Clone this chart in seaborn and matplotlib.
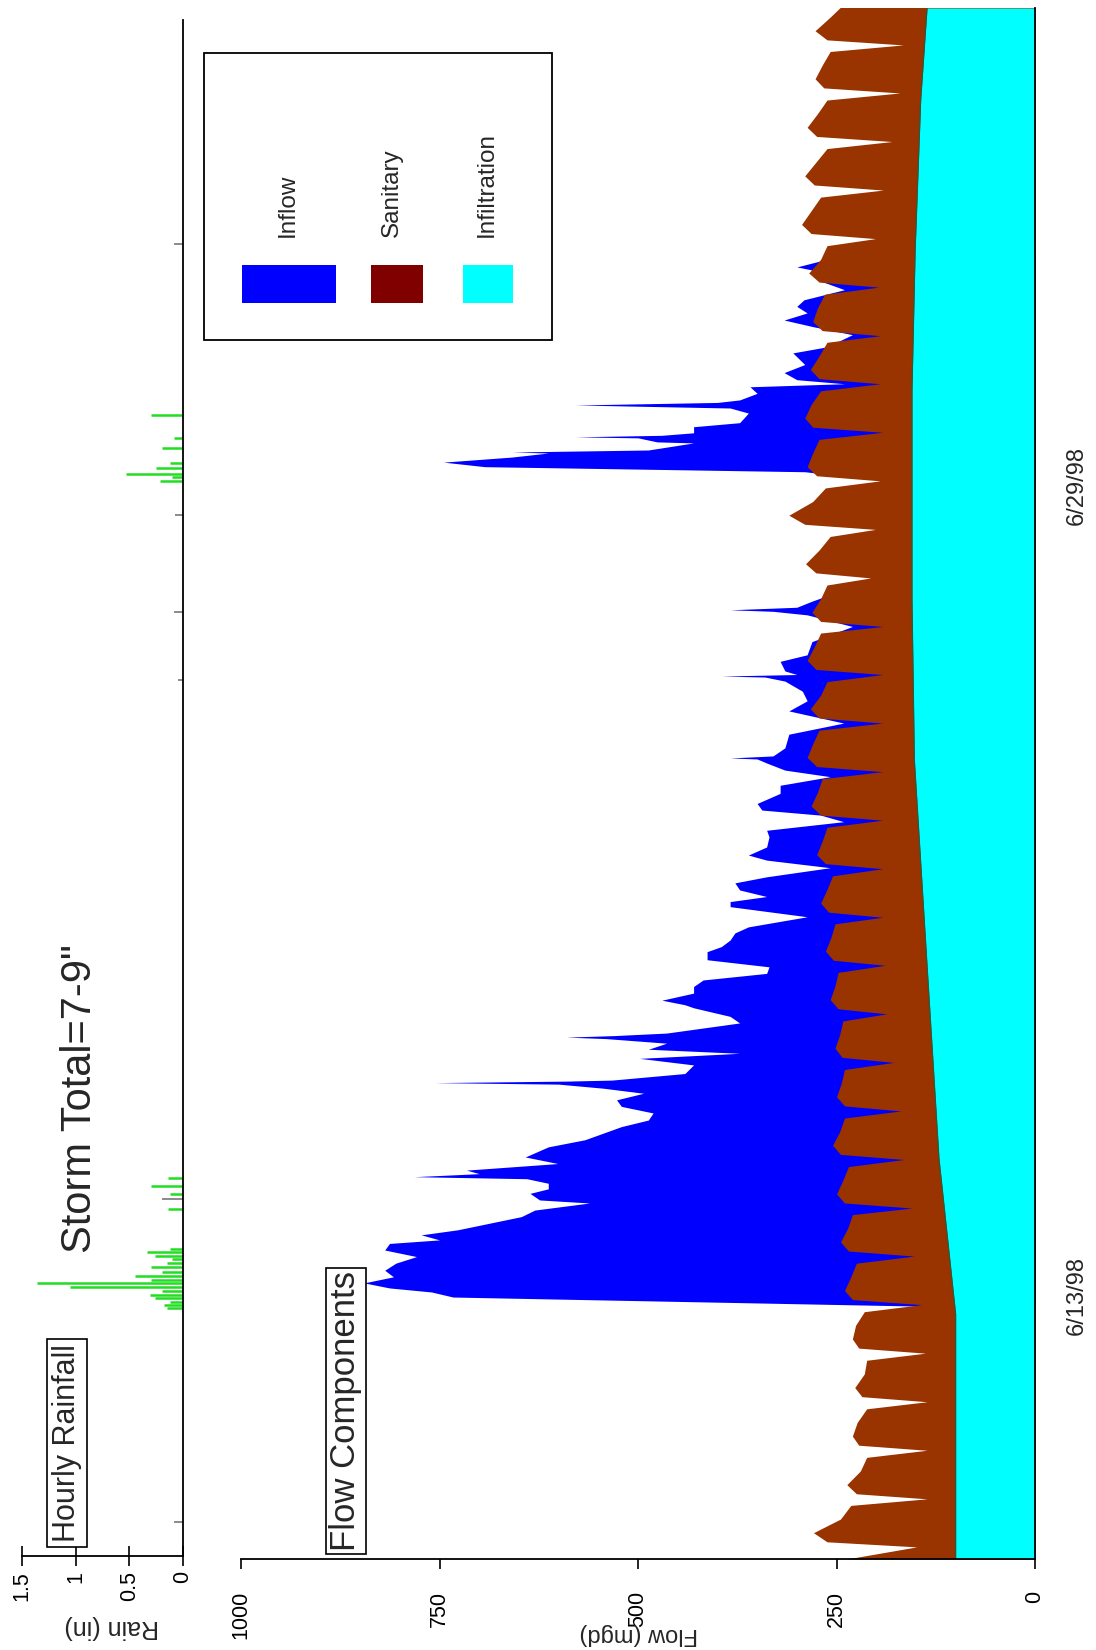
import matplotlib
matplotlib.use('Agg')
import matplotlib.pyplot as plt
import seaborn as sns
from matplotlib.patches import Rectangle

# time axis = day of June 1998 (values above 30 run into July)
# infiltration (mgd)
infil_t = [7.78, 12.62, 15.70, 23.58, 26.75, 30.90, 33.67, 36.64, 38.45]
infil_v = [100, 100, 121, 152, 155, 155, 151, 144, 136]

# sanitary + infiltration, one entry per day
# (night trough, morning rise, peak, midday, evening)
san_start_t = 7.78
san_start_v = 237
trough_t = [8.02, 8.97, 9.93, 10.89, 11.85, 12.81, 13.77, 14.72, 15.68, 16.64,
            17.60, 18.56, 19.52, 20.47, 21.43, 22.39, 23.35, 24.31, 25.27, 26.22,
            27.18, 28.14, 29.10, 30.06, 31.02, 31.97, 32.93, 33.89, 34.85, 35.81,
            36.77, 37.72]
trough_v = [149, 136, 136, 136, 138, 143, 152, 155, 165, 169,
            178, 187, 189, 192, 192, 192, 192, 192, 192, 192,
            207, 201, 195, 192, 195, 195, 197, 201, 191, 180,
            170, 166]
rise_v = [262, 225, 222, 218, 222, 230, 235, 240, 245, 240,
          243, 248, 254, 260, 264, 270, 275, 272, 276, 270,
          276, 290, 275, 280, 272, 268, 272, 282, 278, 275,
          266, 262]
peak_v = [279, 237, 230, 227, 230, 240, 245, 250, 255, 250,
          252, 258, 264, 270, 275, 282, 287, 283, 287, 281,
          289, 310, 287, 290, 283, 280, 285, 294, 290, 287,
          277, 277]
mid_v = [245, 220, 224, 215, 226, 232, 236, 242, 246, 244,
         246, 252, 257, 262, 268, 274, 280, 270, 278, 270,
         272, 280, 280, 282, 272, 274, 270, 282, 276, 274,
         268, 258]
late_v = [232, 212, 212, 212, 215, 225, 230, 235, 240, 240,
          242, 248, 252, 255, 262, 268, 272, 262, 270, 262,
          258, 264, 272, 270, 262, 265, 262, 270, 262, 262,
          258, 240]
day_offsets = [0.0, 0.10, 0.28, 0.55, 0.82]

# total flow (inflow on top) during the two wet periods
storm1_t = [12.70, 12.78, 12.96, 13.06, 13.14, 13.24, 13.36, 13.49, 13.63, 13.76,
            13.89, 14.02, 14.09, 14.19, 14.29, 14.42, 14.55, 14.68, 14.82, 14.88,
            15.01, 15.10, 15.21, 15.30, 15.34, 15.40, 15.47, 15.60, 15.73, 15.93,
            16.07, 16.33, 16.46, 16.60, 16.73, 16.86, 16.99, 17.09, 17.17, 17.20,
            17.23, 17.25, 17.38, 17.55, 17.68, 17.78, 17.86, 17.98, 18.07, 18.10,
            18.13, 18.18, 18.38, 18.51, 18.68, 18.74, 18.83, 18.97, 19.10, 19.23,
            19.36, 19.49, 19.63, 19.79, 19.89, 20.02, 20.16, 20.28, 20.48, 20.68,
            20.78, 20.88, 21.01, 21.15, 21.27, 21.45, 21.60, 21.70, 21.86, 22.06,
            22.19, 22.36, 22.49, 22.59, 22.72, 22.92, 23.08, 23.25, 23.38, 23.52,
            23.60, 23.62, 23.66, 23.82, 24.09, 24.31, 24.55, 24.75, 24.94, 25.14,
            25.22, 25.24, 25.27, 25.34, 25.53, 25.66, 25.92, 26.22, 26.45, 26.52,
            26.55, 26.60, 26.72, 26.85, 26.95]
storm1_v = [0, 143, 733, 760, 813, 845, 808, 819, 805, 779,
            819, 813, 750, 773, 727, 687, 647, 630, 561, 624,
            636, 613, 613, 640, 782, 700, 716, 601, 642, 613,
            567, 521, 487, 481, 521, 527, 493, 544, 600, 756,
            590, 533, 441, 430, 498, 372, 487, 464, 540, 590,
            530, 464, 372, 384, 430, 441, 470, 430, 430, 418,
            338, 335, 413, 413, 395, 384, 378, 361, 287, 384,
            384, 338, 372, 378, 338, 258, 338, 361, 338, 335,
            338, 241, 270, 344, 350, 321, 321, 258, 315, 338,
            350, 384, 330, 315, 310, 241, 310, 287, 293, 315,
            340, 395, 300, 315, 321, 287, 281, 230, 287, 330,
            384, 300, 281, 258, 0]
storm2_t = [29.05, 29.12, 29.28, 29.38, 29.47, 29.57, 29.65, 29.67, 29.71, 29.85,
            29.87, 29.95, 29.97, 30.00, 30.05, 30.17, 30.25, 30.44, 30.54, 30.60,
            30.65, 30.70, 30.83, 30.96, 31.02, 31.10, 31.24, 31.40, 31.63, 31.75,
            31.99, 32.15, 32.28, 32.42, 32.55, 32.68, 32.88, 33.05, 33.21, 33.33,
            33.45, 33.53, 33.61]
storm2_v = [0, 200, 290, 693, 745, 659, 613, 659, 487, 430,
            476, 500, 579, 470, 430, 430, 372, 361, 384, 579,
            400, 372, 350, 359, 240, 300, 316, 290, 305, 262,
            230, 280, 316, 287, 300, 291, 240, 270, 262, 300,
            270, 262, 0]

# hourly rainfall (in)
rain_t = [12.74, 12.80, 12.87, 12.94, 13.00, 13.08, 13.16, 13.24, 13.30, 13.38,
          13.45, 13.55, 13.63, 13.72, 13.78, 13.85, 13.92, 14.70, 15.00, 15.15,
          15.32, 29.10, 29.18, 29.25, 29.35, 29.45, 29.75, 29.95, 30.40]
rain_v = [0.15, 0.18, 0.12, 0.26, 0.31, 0.20, 1.05, 1.36, 0.30, 0.45,
          0.20, 0.30, 0.15, 0.10, 0.26, 0.34, 0.12, 0.14, 0.12, 0.30,
          0.14, 0.21, 0.10, 0.53, 0.25, 0.12, 0.20, 0.08, 0.30]
rain2_t = [8.51, 14.90, 25.16, 26.51, 28.43, 33.79]
rain2_v = [0.08, 0.20, 0.05, 0.08, 0.07, 0.08]

flow_ticks = [0, 250, 500, 750, 1000]
rain_ticks = [0, 0.5, 1, 1.5]
rain_tick_labels = ['0', '0.5', '1', '1.5']
date_ticks = [13, 29]
date_labels = ['6/13/98', '6/29/98']

BLUE = '#0000FF'
BROWN = '#993300'
CYAN = '#00FFFF'
GREEN = '#22DD22'

# build the sanitary outline from the daily readings
san_t = [san_start_t]
san_v = [san_start_v]
for k in range(len(trough_t)):
    for off, vals in zip(day_offsets, (trough_v, rise_v, peak_v, mid_v, late_v)):
        san_t.append(trough_t[k] + off)
        san_v.append(vals[k])

sns.set_style('white')
plt.rcParams['font.family'] = ['Liberation Sans', 'DejaVu Sans']

W, H = 1096, 1650
fig = plt.figure(figsize=(W / 100, H / 100), dpi=100)


def fx(px):
    return px / W


def fy(py):
    return 1 - py / H


ax = fig.add_axes([fx(241), fy(1559), fx(1035) - fx(241), fy(8) - fy(1559)])
ax_rain = fig.add_axes([fx(22), fy(1556), fx(183) - fx(22), fy(20) - fy(1556)])

# stacked components, painted back to front
for t, v in ((storm1_t, storm1_v), (storm2_t, storm2_v)):
    ax.fill_betweenx(t, 0, v, color=BLUE, lw=0)
ax.fill_betweenx(san_t, 0, san_v, color=BROWN, lw=0)
ax.fill_betweenx(infil_t, 0, infil_v, color=CYAN, lw=0)
sns.lineplot(x=infil_v, y=infil_t, orient='y', sort=False, estimator=None,
             color='#2d5a3a', lw=0.9, ax=ax)

ax.set_xlim(1000, 0)
ax.set_ylim(7.78, 38.45)
for s in ['top', 'left']:
    ax.spines[s].set_visible(False)
for s in ['bottom', 'right']:
    ax.spines[s].set_color('black')
    ax.spines[s].set_linewidth(1.3)
ax.set_xticks(flow_ticks)
ax.set_xticklabels([str(v) for v in flow_ticks])
ax.tick_params(axis='x', bottom=True, direction='out', length=7, width=1.2,
               labelsize=15.5, labelrotation=90, pad=16, colors='black')
ax.yaxis.tick_right()
ax.set_yticks(date_ticks)
ax.set_yticklabels(date_labels)
ax.tick_params(axis='y', length=0, labelsize=17, labelrotation=90, pad=22)
for lab in ax.get_yticklabels():
    lab.set_va('center')
ax.set_xlabel('')
ax.set_ylabel('')

# rainfall panel
ax_rain.hlines(rain_t, 0, rain_v, color=GREEN, lw=1.8)
ax_rain.hlines(rain2_t, 0, rain2_v, color='#8a8a8a', lw=1.4)
ax_rain.set_xlim(1.5, 0)
ax_rain.set_ylim(7.84, 38.22)
for s in ['top', 'left']:
    ax_rain.spines[s].set_visible(False)
for s in ['bottom', 'right']:
    ax_rain.spines[s].set_color('black')
    ax_rain.spines[s].set_linewidth(1.3)
ax_rain.set_xticks(rain_ticks)
ax_rain.set_xticklabels(rain_tick_labels)
ax_rain.set_yticks([])
ax_rain.tick_params(axis='x', bottom=True, direction='inout', length=14, width=1.2,
                    labelsize=15.5, labelrotation=90, pad=4, colors='black')

# axis titles (upside down, as in the rotated original)
fig.text(fx(639), fy(1634), 'Flow (mgd)', rotation=180, ha='center', va='center',
         fontsize=17)
fig.text(fx(112), fy(1627), 'Rain (in)', rotation=180, ha='center', va='center',
         fontsize=18)

# panel labels
fig.text(fx(67), fy(1443), 'Hourly Rainfall', rotation=90, ha='center', va='center',
         fontsize=22, bbox=dict(boxstyle='square,pad=0.15', fc='white', ec='black', lw=1.2))
fig.text(fx(346), fy(1411), 'Flow Components', rotation=90, ha='center', va='center',
         fontsize=25, bbox=dict(boxstyle='square,pad=0.1', fc='white', ec='black', lw=1.2))
fig.text(fx(80), fy(1099), 'Storm Total=7-9"', rotation=90, ha='center', va='center',
         fontsize=30)

# legend, drawn by hand because it is rotated
fig.add_artist(Rectangle((fx(204), fy(340)), fx(552) - fx(204), fy(53) - fy(340),
                         transform=fig.transFigure, fc='white', ec='black', lw=1.3, zorder=5))
legend_items = [('Inflow', BLUE, 242, 336, 288),
                ('Sanitary', '#800000', 371, 423, 392),
                ('Infiltration', CYAN, 463, 513, 487)]
for name, col, x0, x1, xc in legend_items:
    fig.add_artist(Rectangle((fx(x0), fy(303)), fx(x1) - fx(x0), fy(265) - fy(303),
                             transform=fig.transFigure, fc=col, ec='none', zorder=6))
    fig.text(fx(xc), fy(237), name, rotation=90, ha='center', va='bottom',
             fontsize=17.5, zorder=7)

fig.savefig('out.png', dpi=100)
plt.close(fig)
